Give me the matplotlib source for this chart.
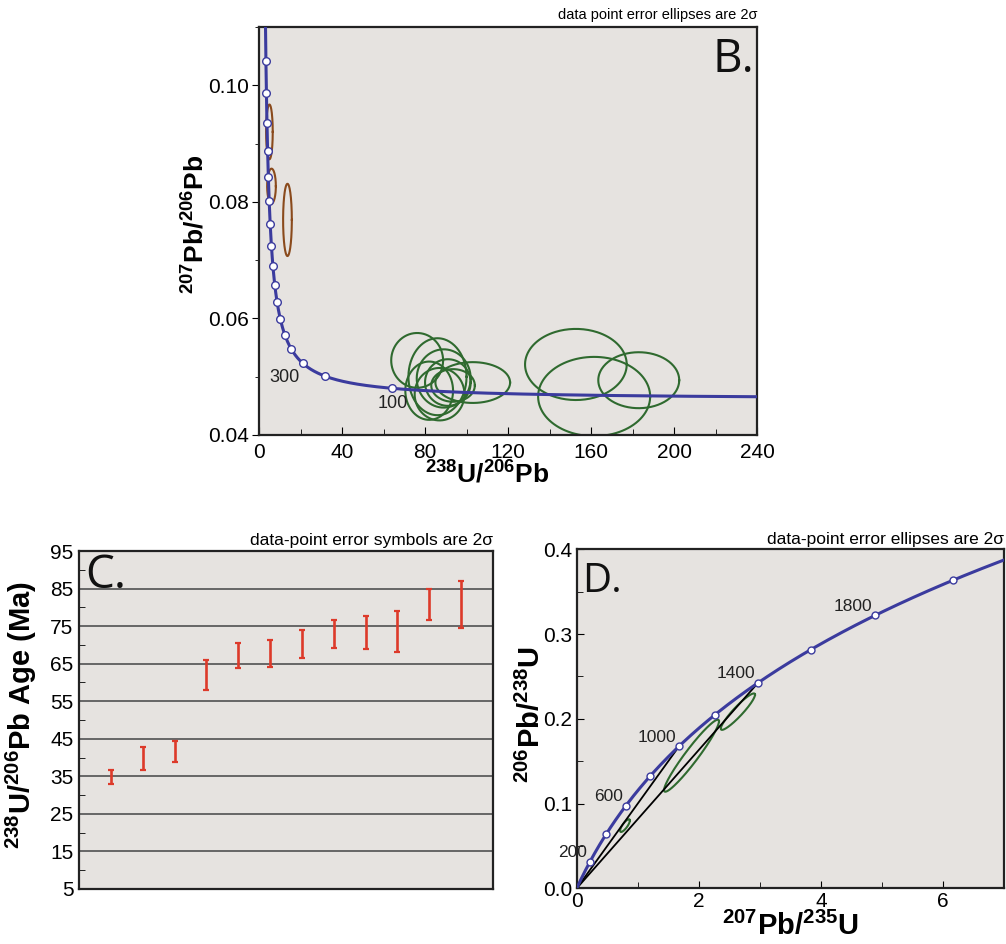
import numpy as np
import matplotlib
matplotlib.use('Agg')
import matplotlib.pyplot as plt
from matplotlib.ticker import MultipleLocator

plt.rcParams['font.family'] = ['Liberation Sans', 'DejaVu Sans']
plt.rcParams['mathtext.default'] = 'regular'

# decay constants (per Ma) and present-day 238U/235U
LAMBDA_238 = 1.55125e-4
LAMBDA_235 = 9.8485e-4
U238_U235 = 137.88

# --- panel B (Tera-Wasserburg) ---
tw_marker_ages = [100, 200, 300, 400, 500, 600, 700, 800, 900,
                  1000, 1100, 1200, 1300, 1400, 1500, 1600, 1700]
tw_labelled_ages = [100, 300]
brown_cx = [5.0, 6.0, 13.7]
brown_cy = [0.0920, 0.0827, 0.0769]
brown_sx = [1.6, 2.1, 2.1]
brown_sy = [0.0047, 0.0030, 0.0062]
green_cx = [76.2, 86.0, 82.0, 89.0, 91.0, 103.0, 93.5, 87.0, 152.7, 161.5, 183.0]
green_cy = [0.0528, 0.0500, 0.0476, 0.0497, 0.0490, 0.0490, 0.0485, 0.0470,
            0.0521, 0.0466, 0.0494]
green_sx = [12.5, 14.0, 11.5, 13.0, 11.0, 18.0, 10.5, 12.0, 24.5, 27.0, 19.5]
green_sy = [0.0047, 0.0066, 0.0050, 0.0050, 0.0040, 0.0035, 0.0028, 0.0045,
            0.0061, 0.0068, 0.0048]

# --- panel C (ages with 2 sigma bars) ---
c_low = [33.0, 36.8, 38.9, 58.1, 63.9, 64.1, 66.6, 69.3, 68.9, 68.1, 76.7, 74.5]
c_high = [36.8, 42.7, 44.3, 66.1, 70.5, 71.2, 73.9, 76.7, 77.8, 78.9, 84.9, 87.1]

# --- panel D (Wetherill concordia) ---
wc_marker_ages = [200, 400, 600, 800, 1000, 1200, 1400, 1600, 1800, 2000]
wc_labelled_ages = [200, 600, 1000, 1400, 1800]
discordia_ages = [1000, 1400]
d_cx = [0.79, 1.88, 2.64]
d_cy = [0.074, 0.1565, 0.2085]
d_sx = [0.08, 0.45, 0.28]
d_sy = [0.0075, 0.0425, 0.0215]
d_rho = [0.8, 0.955, 0.93]

BG = '#e6e3e0'
BLUE = '#3b3b9e'
GREEN = '#2f6a2f'
BROWN = '#8a4a1c'
RED = '#dd3a2a'
LETTER_FONT = ['Open Sans', 'DejaVu Sans']


def tw_xy(age):
    age = np.asarray(age, dtype=float)
    r38 = np.exp(LAMBDA_238 * age) - 1
    r35 = np.exp(LAMBDA_235 * age) - 1
    return 1 / r38, r35 / r38 / U238_U235


def wc_xy(age):
    age = np.asarray(age, dtype=float)
    return np.exp(LAMBDA_235 * age) - 1, np.exp(LAMBDA_238 * age) - 1


def ellipse(cx, cy, sx, sy, rho=0.0):
    t = np.linspace(0, 2 * np.pi, 200)
    return (cx + sx * np.cos(t),
            cy + sy * (rho * np.cos(t) + np.sqrt(1 - rho ** 2) * np.sin(t)))


def style_axes(ax):
    ax.set_facecolor(BG)
    for sp in ax.spines.values():
        sp.set_linewidth(1.6)
        sp.set_color('#222222')


fig = plt.figure(figsize=(10.06, 9.44), dpi=100)

# ---------------- B ----------------
axb = fig.add_axes([0.2575, 0.5392, 0.495, 0.4322])
style_axes(axb)
for cx, cy, sx, sy in zip(brown_cx, brown_cy, brown_sx, brown_sy):
    axb.plot(*ellipse(cx, cy, sx, sy), color=BROWN, lw=1.5)
for cx, cy, sx, sy in zip(green_cx, green_cy, green_sx, green_sy):
    axb.plot(*ellipse(cx, cy, sx, sy), color=GREEN, lw=1.5)
curve_ages = np.linspace(20, 2200, 2000)
axb.plot(*tw_xy(curve_ages), color=BLUE, lw=2.2, zorder=3)
mx, my = tw_xy(tw_marker_ages)
axb.plot(mx, my, 'o', ms=5.5, mfc='white', mec=BLUE, mew=1.0, zorder=4)
for age in tw_labelled_ages:
    x, y = tw_xy(age)
    if age == 100:
        axb.annotate(str(age), (x, y), xytext=(1, -5), textcoords='offset points',
                     ha='center', va='top', fontsize=13, color='#222222')
    else:
        axb.annotate(str(age), (x, y), xytext=(-2, -4), textcoords='offset points',
                     ha='right', va='top', fontsize=13, color='#222222')
axb.set_xlim(0, 240)
axb.set_ylim(0.04, 0.11)
axb.set_xticks([0, 40, 80, 120, 160, 200, 240])
axb.xaxis.set_minor_locator(MultipleLocator(20))
axb.set_yticks([0.04, 0.06, 0.08, 0.10])
axb.yaxis.set_minor_locator(MultipleLocator(0.01))
axb.set_yticklabels(['0.04', '0.06', '0.08', '0.10'])
axb.tick_params(axis='x', which='both', direction='in', labelsize=15, pad=6)
axb.tick_params(axis='x', which='major', length=6)
axb.tick_params(axis='x', which='minor', length=4)
axb.tick_params(axis='y', which='both', direction='out', labelsize=15, pad=2)
axb.tick_params(axis='y', which='major', length=5)
axb.tick_params(axis='y', which='minor', length=3)
axb.text(0.995, 0.975, 'B.', transform=axb.transAxes, ha='right', va='top',
         fontsize=33, family=LETTER_FONT, color='#111111')
axb.text(1.0, 1.012, 'data point error ellipses are 2\u03c3', transform=axb.transAxes,
         ha='right', va='bottom', fontsize=10.5)
fig.text(0.194, 0.762, r'$^{207}$Pb/$^{206}$Pb', rotation=90, ha='center', va='center',
         fontsize=19, fontweight='bold')
fig.text(0.484, 0.497, r'$^{238}$U/$^{206}$Pb', ha='center', va='center',
         fontsize=19, fontweight='bold')

# ---------------- C ----------------
axc = fig.add_axes([0.0785, 0.0583, 0.4115, 0.358])
style_axes(axc)
pos = np.arange(1, len(c_low) + 1)
lo = np.array(c_low)
hi = np.array(c_high)
mid = (lo + hi) / 2
axc.errorbar(pos, mid, yerr=(hi - lo) / 2, fmt='none', ecolor=RED, elinewidth=1.9,
             capsize=2.2, capthick=1.6, zorder=3)
axc.set_xlim(0, 13)
axc.set_ylim(5, 95)
axc.set_yticks(np.arange(5, 96, 10))
axc.yaxis.set_minor_locator(MultipleLocator(5))
axc.set_xticks([])
axc.grid(axis='y', color='#666666', lw=1.4)
axc.set_axisbelow(True)
axc.tick_params(axis='y', which='both', direction='in', labelsize=15, pad=4)
axc.tick_params(axis='y', which='major', length=0)
axc.tick_params(axis='y', which='minor', length=4)
axc.text(0.015, 0.995, 'C.', transform=axc.transAxes, ha='left', va='top',
         fontsize=33, family=LETTER_FONT, color='#111111')
axc.text(1.0, 1.008, 'data-point error symbols are 2\u03c3', transform=axc.transAxes,
         ha='right', va='bottom', fontsize=12.5)
fig.text(0.021, 0.2426, r'$^{238}$U/$^{206}$Pb Age (Ma)', rotation=90, ha='center',
         va='center', fontsize=21, fontweight='bold')

# ---------------- D ----------------
axd = fig.add_axes([0.5733, 0.059, 0.4248, 0.359])
style_axes(axd)
for cx, cy, sx, sy, r in zip(d_cx, d_cy, d_sx, d_sy, d_rho):
    axd.plot(*ellipse(cx, cy, sx, sy, r), color=GREEN, lw=1.5)
for age in discordia_ages:
    ex, ey = wc_xy(age)
    axd.plot([0, ex], [0, ey], color='black', lw=1.3, zorder=2)
curve_ages = np.linspace(0, 2400, 600)
axd.plot(*wc_xy(curve_ages), color=BLUE, lw=2.2, zorder=3)
mx, my = wc_xy(wc_marker_ages)
axd.plot(mx, my, 'o', ms=5, mfc='white', mec=BLUE, mew=1.0, zorder=4)
for age in wc_labelled_ages:
    axd.annotate(str(age), wc_xy(age), xytext=(-2, 1), textcoords='offset points',
                 ha='right', va='bottom', fontsize=12.5, color='#222222')
axd.set_xlim(0, 7)
axd.set_ylim(0, 0.4)
axd.set_xticks([0, 2, 4, 6])
axd.xaxis.set_minor_locator(MultipleLocator(1))
axd.set_yticks([0.0, 0.1, 0.2, 0.3, 0.4])
axd.set_yticklabels(['0.0', '0.1', '0.2', '0.3', '0.4'])
axd.yaxis.set_minor_locator(MultipleLocator(0.05))
axd.tick_params(which='both', direction='in', labelsize=15)
axd.tick_params(which='major', length=5)
axd.tick_params(which='minor', length=4)
axd.tick_params(axis='x', pad=3)
axd.text(0.012, 0.965, 'D.', transform=axd.transAxes, ha='left', va='top',
         fontsize=29, family=LETTER_FONT, color='#111111')
axd.text(1.0, 1.008, 'data-point error ellipses are 2\u03c3', transform=axd.transAxes,
         ha='right', va='bottom', fontsize=12.5)
fig.text(0.528, 0.2426, r'$^{206}$Pb/$^{238}$U', rotation=90, ha='center', va='center',
         fontsize=21, fontweight='bold')
fig.text(0.786, 0.0185, r'$^{207}$Pb/$^{235}$U', ha='center', va='center',
         fontsize=21, fontweight='bold')

fig.savefig('out.png', dpi=100, facecolor='white')
